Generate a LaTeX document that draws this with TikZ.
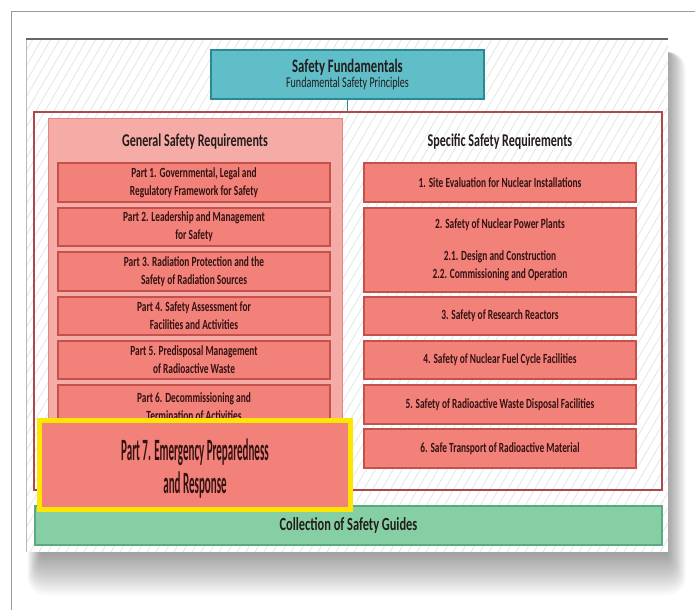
\documentclass[tikz,border=0pt]{standalone}
\usepackage{fontspec}
\setmainfont{Carlito}[FakeStretch=0.67]
\newfontfamily\pfont{Carlito}[FakeStretch=0.355]
\definecolor{framegray}{HTML}{9A9A9A}
\definecolor{cardtop}{HTML}{666666}
\definecolor{hatchc}{HTML}{E2E6EA}
\definecolor{tealfill}{HTML}{5FBEC8}
\definecolor{tealdraw}{HTML}{2A8A93}
\definecolor{reddraw}{HTML}{B0474A}
\definecolor{pinkfill}{HTML}{F5ACA7}
\definecolor{pinkdraw}{HTML}{E08580}
\definecolor{boxfill}{HTML}{F2817A}
\definecolor{boxdraw}{HTML}{C6504B}
\definecolor{yel}{HTML}{FFE600}
\definecolor{greenfill}{HTML}{86CFA4}
\definecolor{greendraw}{HTML}{5BAA7E}
\definecolor{txt}{HTML}{331212}
\definecolor{hdrtxt}{HTML}{241C1C}
\tikzset{
  hatch/.style={draw=hatchc, line width=0.8pt},
  tealbox/.style={draw=tealdraw, fill=tealfill, line width=2pt, inner sep=0pt, align=center, text=hdrtxt},
  redframe/.style={draw=reddraw, line width=1.3pt, inner sep=0pt},
  panel/.style={draw=pinkdraw, fill=pinkfill, line width=1pt, inner sep=0pt},
  reqbox/.style={draw=boxdraw, fill=boxfill, line width=1.2pt, minimum width=272pt, inner sep=0pt, align=center, text=txt, font=\bfseries\fontsize{14}{18}\selectfont},
  hdr/.style={text=hdrtxt, font=\bfseries\fontsize{18}{20}\selectfont, inner sep=0pt},
  sevenbox/.style={draw=yel, fill=boxfill, line width=5pt, inner sep=0pt},
  seventxt/.style={align=center, text=txt, inner sep=0pt, font=\pfont\bfseries\fontsize{31}{33}\selectfont},
  guides/.style={draw=greendraw, fill=greenfill, line width=1.2pt, inner sep=0pt, text=hdrtxt, font=\bfseries\fontsize{18.5}{20}\selectfont},
  link/.style={draw=tealdraw, line width=1.5pt}
}
\begin{document}
\begin{tikzpicture}[x=1pt,y=-1pt]
\useasboundingbox (0,0) rectangle (695,610);
\fill[white] (0,0) rectangle (695,610);
% outer page frame
\draw[framegray, line width=1pt] (11,610) -- (11,12) -- (695,12);
% soft shadow
\foreach \i in {1,...,18}
  \fill[black, opacity=0.025, rounded corners=\i pt] (42-\i*0.8,52) rectangle (666+\i*1.1, 550+\i*2.5);
% card
\fill[white] (26,39) rectangle (668,552);
\begin{scope}
  \clip (26,39) rectangle (668,552);
  \foreach \x in {-420,-411,...,700}
    \draw[hatch] (\x,552) -- (\x+300,39);
\end{scope}
\draw[framegray!70, line width=0.8pt] (26,552) -- (26,39);
\draw[cardtop, line width=2pt] (26,39) -- (668,39);
% safety fundamentals
\node[tealbox, minimum width=273pt, minimum height=49pt] (sf) at (347.5,74.5)
  {{\bfseries\fontsize{19}{21}\selectfont Safety Fundamentals}\\[1pt]
   {\fontsize{15}{18}\selectfont Fundamental Safety Principles}};
% red frame
\node[redframe, minimum width=628pt, minimum height=378pt] (outer) at (348,301) {};
\draw[link] (sf.south) -- (sf.south |- outer.north);
% general panel
\node[panel, minimum width=294pt, minimum height=364pt] (gen) at (195,300) {};
\node[hdr] (gh) at (195,142) {General Safety Requirements};
\node[hdr] (sh) at (500,142) {Specific Safety Requirements};
% general parts
\node[reqbox, minimum height=39pt] (p1) at (194,182.5) {Part 1. Governmental, Legal and\\Regulatory Framework for Safety};
\node[reqbox, minimum height=38pt] (p2) at (194,227) {Part 2. Leadership and Management\\for Safety};
\node[reqbox, minimum height=39pt] (p3) at (194,271.5) {Part 3. Radiation Protection and the\\Safety of Radiation Sources};
\node[reqbox, minimum height=38pt] (p4) at (194,316) {Part 4. Safety Assessment for\\Facilities and Activities};
\node[reqbox, minimum height=38pt] (p5) at (194,360) {Part 5. Predisposal Management\\of Radioactive Waste};
\node[reqbox, minimum height=44pt] (p6) at (194,407) {Part 6. Decommissioning and\\Termination of Activities};
% specific
\node[reqbox, minimum height=39pt] (s1) at (500,182.5) {1. Site Evaluation for Nuclear Installations};
\node[reqbox, minimum height=84pt] (s2) at (500,250) {2. Safety of Nuclear Power Plants\\[14pt]2.1. Design and Construction\\2.2. Commissioning and Operation};
\node[reqbox, minimum height=38pt] (s3) at (500,316) {3. Safety of Research Reactors};
\node[reqbox, minimum height=38pt] (s4) at (500,360) {4. Safety of Nuclear Fuel Cycle Facilities};
\node[reqbox, minimum height=39pt] (s5) at (500,404.5) {5. Safety of Radioactive Waste Disposal Facilities};
\node[reqbox, minimum height=39pt] (s6) at (500,448.5) {6. Safe Transport of Radioactive Material};
% guides
\node[guides, minimum width=627pt, minimum height=39pt] (cg) at (348.5,525.5) {Collection of Safety Guides};
% part 7
\node[sevenbox, minimum width=311pt, minimum height=89pt] (p7) at (195,465) {};
\node[seventxt] (p7t) at ([yshift=-4pt]p7.center) {Part 7. Emergency Preparedness\\and Response};
\end{tikzpicture}
\end{document}
